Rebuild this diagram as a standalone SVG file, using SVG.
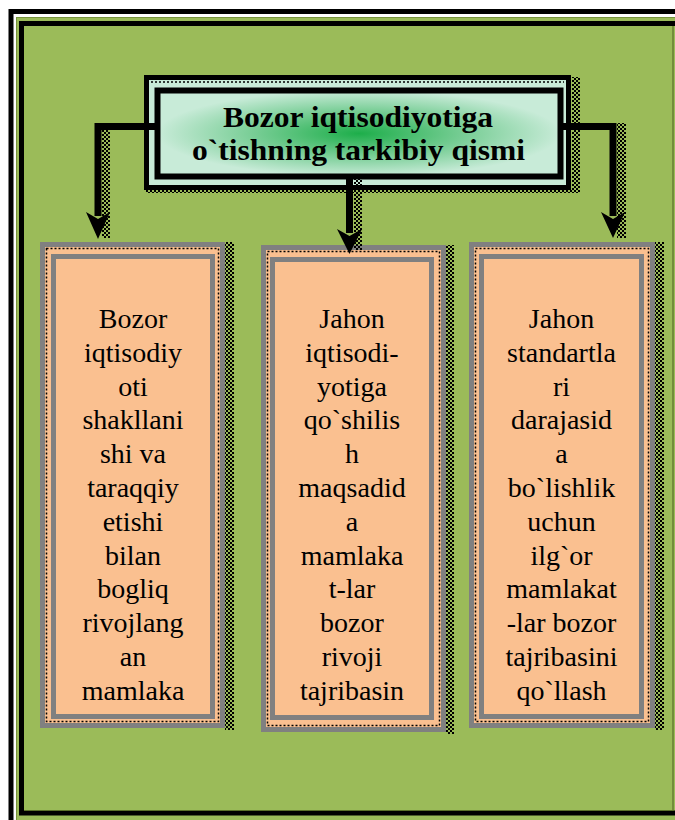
<svg xmlns="http://www.w3.org/2000/svg" width="675" height="820" viewBox="0 0 675 820">
<style>
.gray{fill:#FAC090;stroke:#808080;stroke-width:5}
.dots{fill:none;stroke:#000;stroke-width:1.5;stroke-dasharray:2 2}
.btxt{font-family:"Liberation Serif","Times New Roman",serif;font-size:28px;fill:#000;text-anchor:middle}
.htxt{font-family:"Liberation Serif","Times New Roman",serif;font-size:29px;font-weight:bold;fill:#000;text-anchor:middle}
.conn{fill:none;stroke:#000;stroke-width:7}
</style>
<defs>
<pattern id="chk" width="4" height="4" patternUnits="userSpaceOnUse">
<rect x="0" y="0" width="2" height="2" fill="#000"/>
<rect x="2" y="2" width="2" height="2" fill="#000"/>
</pattern>
<radialGradient id="hg" cx="0.5" cy="0.5" r="0.5">
<stop offset="0" stop-color="#1DAE4A"/>
<stop offset="0.5" stop-color="#74CC92"/>
<stop offset="1" stop-color="#C8EBD8"/>
</radialGradient>
<clipPath id="hclip"><rect x="160" y="93" width="398" height="73"/></clipPath>
</defs>
<rect width="675" height="820" fill="#fff"/>
<g id="frame">
<rect x="11" y="11.5" width="700" height="840" fill="none" stroke="#000" stroke-width="5"/>
<rect x="16.5" y="17.5" width="700" height="840" fill="#9BBB59" stroke="#76923C" stroke-width="1"/>
<rect x="21.5" y="23.5" width="700" height="789.5" fill="#9BBB59" stroke="#000" stroke-width="5"/>
<line x1="673" y1="26" x2="673" y2="811" stroke="#5A7028" stroke-width="1.2"/>
<line x1="24" y1="810.5" x2="673" y2="810.5" stroke="#5A7028" stroke-width="1"/>
</g>
<g id="header">
<rect x="572" y="77" width="8" height="116" fill="url(#chk)"/>
<rect x="146" y="190" width="426" height="3" fill="url(#chk)"/>
<rect x="146.5" y="77.5" width="422" height="110" fill="#C8EBD8" stroke="#000" stroke-width="5"/>
<line x1="151" y1="82" x2="564" y2="82" class="dots"/>
<rect x="157.5" y="90.5" width="403" height="86" fill="url(#hg)" stroke="#000" stroke-width="6"/>
<g clip-path="url(#hclip)">
<text class="htxt" x="358" y="127" textLength="270" lengthAdjust="spacingAndGlyphs">Bozor iqtisodiyotiga</text>
<text class="htxt" x="358.5" y="160" textLength="333" lengthAdjust="spacingAndGlyphs">o`tishning tarkibiy qismi</text>
</g>
</g>
<g id="box1">
<rect x="225" y="242" width="9" height="488" fill="url(#chk)"/>
<rect class="gray" x="42.5" y="244.5" width="180" height="481"/>
<rect class="dots" x="46.5" y="248.5" width="172" height="473"/>
<rect class="gray" x="53.5" y="256.5" width="159" height="460"/>
<text class="btxt" x="133" y="328">Bozor</text>
<text class="btxt" x="133" y="361.8">iqtisodiy</text>
<text class="btxt" x="133" y="395.6">oti</text>
<text class="btxt" x="133" y="429.4">shakllani</text>
<text class="btxt" x="133" y="463.2">shi va</text>
<text class="btxt" x="133" y="497">taraqqiy</text>
<text class="btxt" x="133" y="530.8">etishi</text>
<text class="btxt" x="133" y="564.6">bilan</text>
<text class="btxt" x="133" y="598.4">bogliq</text>
<text class="btxt" x="133" y="632.2">rivojlang</text>
<text class="btxt" x="133" y="666">an</text>
<text class="btxt" x="133" y="699.8">mamlaka</text>
</g>
<g id="box2">
<rect x="446" y="245" width="8" height="489" fill="url(#chk)"/>
<rect class="gray" x="263.5" y="247.5" width="180" height="482"/>
<rect class="dots" x="267.5" y="251.5" width="172" height="474"/>
<rect class="gray" x="272.5" y="259.5" width="159" height="458"/>
<text class="btxt" x="352" y="328">Jahon</text>
<text class="btxt" x="352" y="361.8">iqtisodi-</text>
<text class="btxt" x="352" y="395.6">yotiga</text>
<text class="btxt" x="352" y="429.4">qo`shilis</text>
<text class="btxt" x="352" y="463.2">h</text>
<text class="btxt" x="352" y="497">maqsadid</text>
<text class="btxt" x="352" y="530.8">a</text>
<text class="btxt" x="352" y="564.6">mamlaka</text>
<text class="btxt" x="352" y="598.4">t-lar</text>
<text class="btxt" x="352" y="632.2">bozor</text>
<text class="btxt" x="352" y="666">rivoji</text>
<text class="btxt" x="352" y="699.8">tajribasin</text>
</g>
<g id="box3">
<rect x="655" y="242" width="9" height="488" fill="url(#chk)"/>
<rect class="gray" x="471.5" y="244.5" width="181" height="481"/>
<rect class="dots" x="475.5" y="248.5" width="173" height="473"/>
<rect class="gray" x="481.5" y="256.5" width="160" height="460"/>
<text class="btxt" x="561.5" y="328">Jahon</text>
<text class="btxt" x="561.5" y="361.8">standartla</text>
<text class="btxt" x="561.5" y="395.6">ri</text>
<text class="btxt" x="561.5" y="429.4">darajasid</text>
<text class="btxt" x="561.5" y="463.2">a</text>
<text class="btxt" x="561.5" y="497">bo`lishlik</text>
<text class="btxt" x="561.5" y="530.8">uchun</text>
<text class="btxt" x="561.5" y="564.6">ilg`or</text>
<text class="btxt" x="561.5" y="598.4">mamlakat</text>
<text class="btxt" x="561.5" y="632.2">-lar bozor</text>
<text class="btxt" x="561.5" y="666">tajribasini</text>
<text class="btxt" x="561.5" y="699.8">qo`llash</text>
</g>
<g id="connectors">
<rect x="102" y="130" width="8" height="108" fill="url(#chk)"/>
<rect x="617" y="123" width="9" height="115" fill="url(#chk)"/>
<rect x="354" y="178" width="8" height="72" fill="url(#chk)"/>
<path class="conn" d="M160 126.5 H98 V216"/>
<path d="M86 212 L98 239 L110 212 L98 219 Z" fill="#000"/>
<path class="conn" d="M560 126.5 H613 V216"/>
<path d="M601 212 L613 238 L625 212 L613 219 Z" fill="#000"/>
<path class="conn" d="M349.5 176 V233"/>
<path d="M337 229 L349.5 254 L362 229 L349.5 236 Z" fill="#000"/>
</g>
</svg>
